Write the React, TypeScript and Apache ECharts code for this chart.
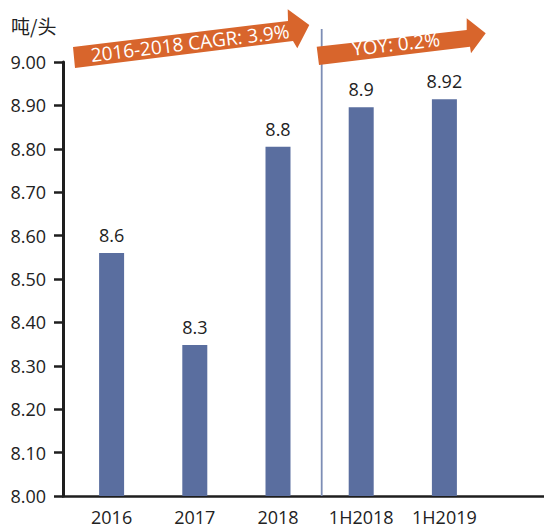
import React, { useEffect, useRef } from "react";
import * as echarts from "echarts";

const categories = ["2016", "2017", "2018", "1H2018", "1H2019"];
const values = [8.56, 8.348, 8.805, 8.896, 8.914];
const valueLabels = ["8.6", "8.3", "8.8", "8.9", "8.92"];
const yTicks = [8.0, 8.1, 8.2, 8.3, 8.4, 8.5, 8.6, 8.7, 8.8, 8.9, 9.0];
const unitLabel = "吨/头";
const arrowTexts = ["2016-2018 CAGR: 3.9%", "YOY: 0.2%"];

const FONT = "'Open Sans', 'Noto Sans', sans-serif";
const ORANGE = "#d8652c";
const BAR = "#5a6e9f";

export default function App() {
  const ref = useRef<HTMLDivElement>(null);
  useEffect(() => {
    if (!ref.current) return;
    const chart = echarts.init(ref.current, undefined, { renderer: "svg" });
    const yMin = yTicks[0];
    const yMax = yTicks[yTicks.length - 1];
    chart.setOption({
      animation: false,
      backgroundColor: "#ffffff",
      grid: [
        { left: 63, right: 0, top: 62, bottom: 33 },
        { left: 70, width: 416, top: 62, bottom: 33 },
      ],
      xAxis: [
        {
          gridIndex: 0,
          type: "value",
          min: 0,
          max: 1,
          axisLine: { show: true, lineStyle: { color: "#1e1e1e", width: 2.5 } },
          axisTick: { show: false },
          axisLabel: { show: false },
          splitLine: { show: false },
        },
        {
          gridIndex: 1,
          type: "category",
          data: categories,
          axisLine: { show: false },
          axisTick: { show: false },
          axisLabel: {
            interval: 0,
            hideOverlap: false,
            margin: 12,
            fontSize: 18,
            color: "#222",
            fontFamily: FONT,
          },
        },
      ],
      yAxis: [
        {
          gridIndex: 0,
          type: "value",
          min: yMin,
          max: yMax,
          interval: 0.1,
          axisLine: { show: true, lineStyle: { color: "#1e1e1e", width: 3 } },
          axisTick: {
            show: true,
            inside: false,
            length: 9,
            lineStyle: { color: "#1e1e1e", width: 2.5 },
          },
          axisLabel: {
            margin: 17,
            fontSize: 18,
            color: "#222",
            fontFamily: FONT,
            formatter: (v: number) => v.toFixed(2),
          },
          splitLine: { show: false },
        },
        {
          gridIndex: 1,
          type: "value",
          min: yMin,
          max: yMax,
          show: false,
          splitLine: { show: false },
        },
      ],
      series: [
        {
          type: "bar",
          xAxisIndex: 1,
          yAxisIndex: 1,
          data: values,
          barWidth: 25,
          itemStyle: { color: BAR },
          label: {
            show: true,
            position: "top",
            distance: 9,
            fontSize: 18,
            color: "#222",
            fontFamily: FONT,
            formatter: (p: any) => valueLabels[p.dataIndex],
          },
        },
      ],
      graphic: [
        {
          type: "text",
          left: 11,
          top: 16,
          style: {
            text: unitLabel,
            fontSize: 19,
            fill: "#222",
            fontFamily: "'Noto Sans CJK SC', sans-serif",
          },
        },
        {
          type: "line",
          shape: { x1: 321.7, y1: 29, x2: 321.7, y2: 496 },
          style: { stroke: "#7d8db5", lineWidth: 1.8 },
          z: 10,
        },
        {
          type: "polygon",
          shape: {
            points: [
              [73, 47],
              [288, 21],
              [287.7, 9.3],
              [309.3, 25],
              [297.3, 48.3],
              [293, 41],
              [75, 68],
            ],
          },
          style: { fill: ORANGE },
          z: 20,
        },
        {
          type: "polygon",
          shape: {
            points: [
              [316.7, 46.7],
              [466.7, 30],
              [466.7, 18.3],
              [485.7, 33.3],
              [471, 53.3],
              [470, 46.7],
              [319, 65],
            ],
          },
          style: { fill: ORANGE },
          z: 20,
        },
        {
          type: "text",
          x: 190,
          y: 43,
          rotation: 0.12,
          style: {
            text: arrowTexts[0],
            fontSize: 19,
            fill: "#fff",
            fontFamily: FONT,
            align: "center",
            verticalAlign: "middle",
          },
          z: 30,
        },
        {
          type: "text",
          x: 396,
          y: 44,
          rotation: 0.11,
          style: {
            text: arrowTexts[1],
            fontSize: 19,
            fill: "#fff",
            fontFamily: FONT,
            align: "center",
            verticalAlign: "middle",
          },
          z: 30,
        },
      ],
    });
    return () => chart.dispose();
  }, []);
  return (
    <div
      ref={ref}
      style={{ position: "fixed", left: 0, top: 0, width: 544, height: 529 }}
    />
  );
}
